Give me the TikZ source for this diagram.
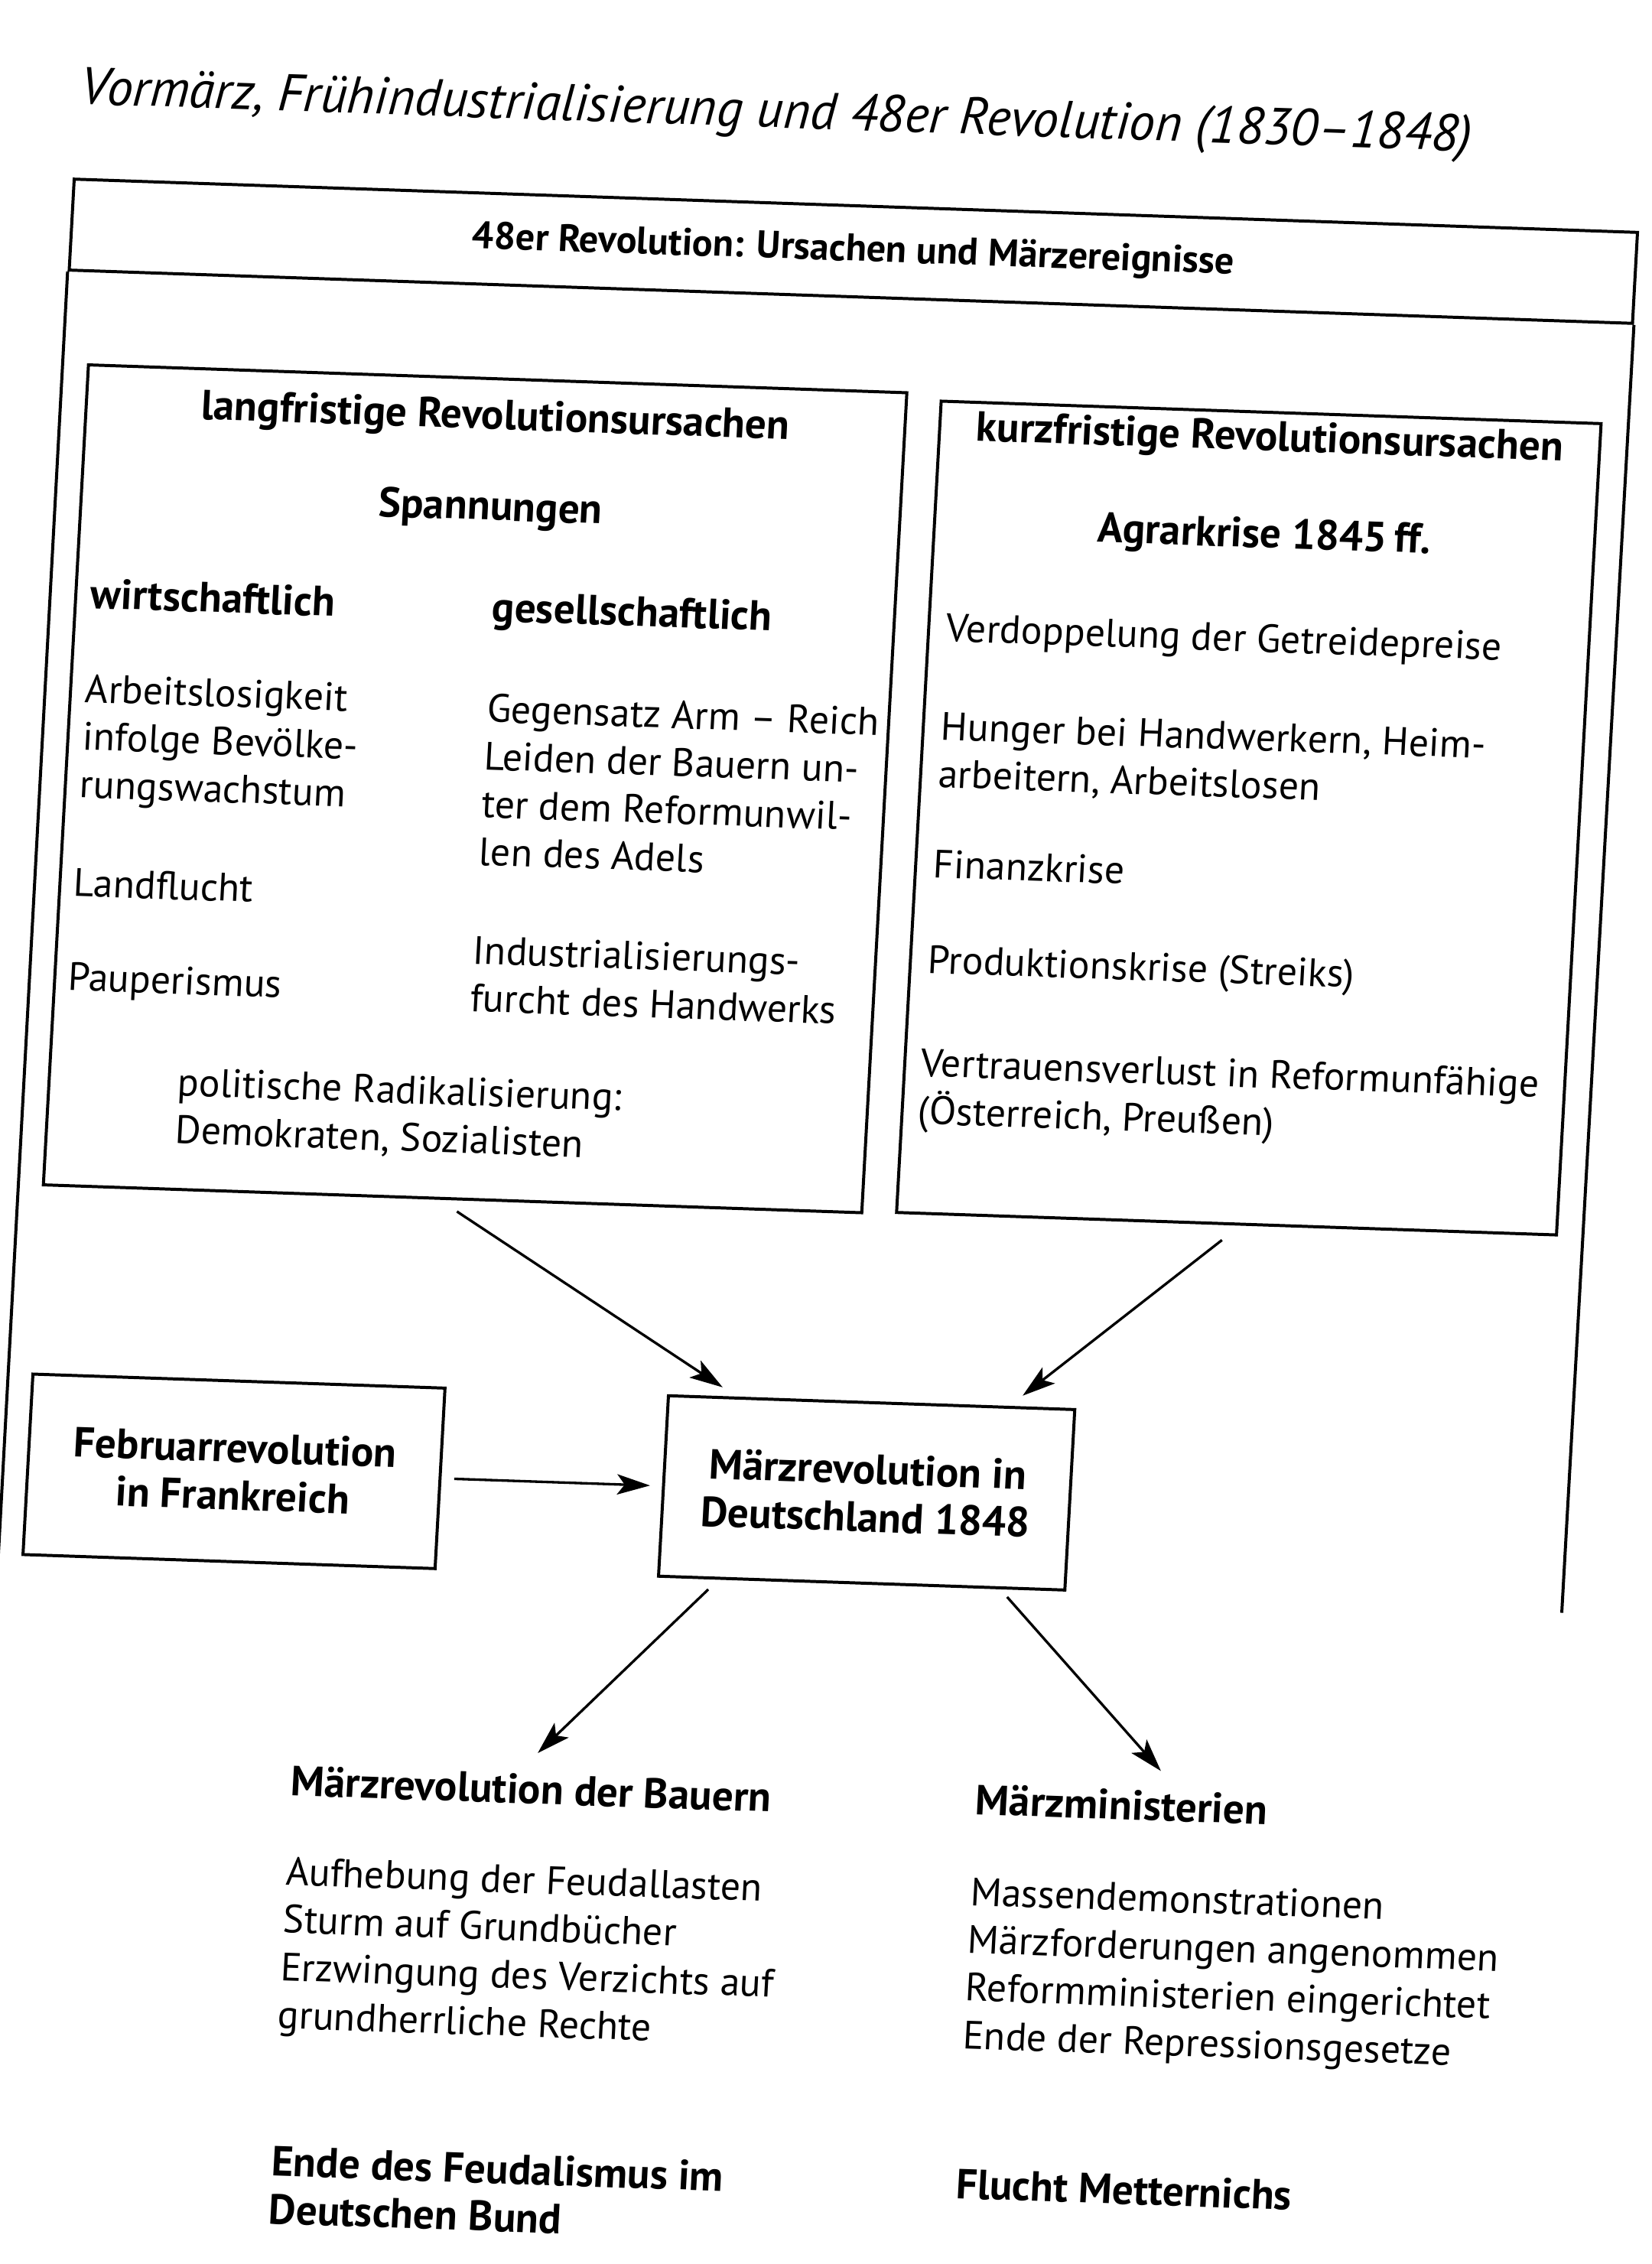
\documentclass[tikz,border=0pt]{standalone}
\usepackage{fontspec}
\setmainfont{PT Sans}
\usetikzlibrary{arrows.meta,calc}
\begin{document}
\begin{tikzpicture}[x=0.02cm,y=-0.02cm,
  box/.style={draw,line width=1.2pt,inner sep=0pt},
  arr/.style={-{Stealth[length=13pt,width=8pt,inset=3pt]},line width=1pt},
  txt/.style={inner sep=0pt,anchor=west,align=left,font=\fontsize{15.6}{18.8}\selectfont},
  hdl/.style={inner sep=0pt,align=left,font=\fontsize{16.6}{18.8}\selectfont\bfseries},
]
\useasboundingbox[fill=white] (0,0) rectangle (1144,1568);
\begin{scope}[shift={(572,784)},xslant=0.055,yslant=-0.034,shift={(-572,-784)},transform shape]
  % title
  \node[anchor=west,inner sep=0pt,font=\fontsize{20.5}{24}\selectfont\itshape] (title) at (16,82)
    {Vormärz, Frühindustrialisierung und 48er Revolution (1830–1848)};
  % header band and outer frame
  \node[box,minimum width=21.7cm,minimum height=1.26cm,font=\fontsize{15.1}{18}\selectfont\bfseries] (hdr) at (557.5,174.5)
    {48er Revolution: Ursachen und Märzereignisse};
  \coordinate (fbl) at (15,1099);
  \coordinate (fbr) at (1100,1099);
  \draw[line width=1.2pt] (fbl) -- (hdr.south west);
  \draw[line width=1.2pt] (fbr) -- (hdr.south east);
  % main boxes
  \node[box,minimum width=11.36cm,minimum height=11.36cm] (lbox) at (316,555) {};
  \node[box,minimum width=9.16cm,minimum height=11.24cm] (rbox) at (853,557) {};
  \node[box,minimum width=5.72cm,minimum height=2.5cm,align=center,font=\fontsize{16.6}{18.8}\selectfont\bfseries] (feb) at (175,1032.5)
    {Februarrevolution\\in Frankreich};
  \node[box,minimum width=5.64cm,minimum height=2.5cm,align=center,font=\fontsize{16.6}{18.8}\selectfont\bfseries] (mz) at (614,1032.5)
    {Märzrevolution in\\Deutschland 1848};
  % left box content
  \node[hdl] (lt1) at (316,298.7) {langfristige Revolutionsursachen};
  \node[hdl] (lt2) at (316,361.6) {Spannungen};
  \node[hdl,anchor=west] (lw) at (42,429) {wirtschaftlich};
  \node[hdl,anchor=west] (lg) at (320.6,431.5) {gesellschaftlich};
  \node[txt] (la) at (42,530.5) {Arbeitslosigkeit\\infolge Bevölke-\\rungswachstum};
  \node[txt] (lgg) at (321,548.5) {Gegensatz Arm – Reich\\Leiden der Bauern un-\\ter dem Reformunwil-\\len des Adels};
  \node[txt] (ll) at (41.5,629) {Landflucht};
  \node[txt] (lp) at (41,697) {Pauperismus};
  \node[txt] (li) at (320.5,683) {Industrialisierungs-\\furcht des Handwerks};
  \node[txt] (lpol) at (121,783) {politische Radikalisierung:\\Demokraten, Sozialisten};
  % right box content
  \node[hdl] (rt1) at (853,295.4) {kurzfristige Revolutionsursachen};
  \node[hdl] (rt2) at (853,362.5) {Agrarkrise 1845\,ff.};
  \node[txt] (rv) at (636,435) {Verdoppelung der Getreidepreise};
  \node[txt] (rh) at (636,519) {Hunger bei Handwerkern, Heim-\\arbeitern, Arbeitslosen};
  \node[txt] (rf) at (636,596) {Finanzkrise};
  \node[txt] (rp) at (636,665) {Produktionskrise (Streiks)};
  \node[txt] (rvv) at (635,753) {Vertrauensverlust in Reformunfähige\\(Österreich, Preußen)};
  % bottom
  \node[hdl,anchor=west] (bauern) at (226,1245) {Märzrevolution der Bauern};
  \node[hdl,anchor=west] (mini) at (701,1242) {Märzministerien};
  \node[txt] (blist) at (226,1360) {Aufhebung der Feudallasten\\Sturm auf Grundbücher\\Erzwingung des Verzichts auf\\grundherrliche Rechte};
  \node[txt] (rlist) at (701,1358) {Massendemonstrationen\\Märzforderungen angenommen\\Reformministerien eingerichtet\\Ende der Repressionsgesetze};
  \node[hdl,anchor=west] (bend) at (227,1525) {Ende des Feudalismus im\\Deutschen Bund};
  \node[hdl,anchor=west] (flucht) at (702,1508) {Flucht Metternichs};
  % arrows
  \draw[arr,shorten <=8.3pt,shorten >=6.6pt] ($(lbox.south west)!0.484!(lbox.south east)$) -- ($(mz.north west)!0.17!(mz.north east)$);
  \draw[arr,shorten <=9.2pt,shorten >=6.5pt] ($(rbox.south west)!0.521!(rbox.south east)$) -- ($(mz.north west)!0.837!(mz.north east)$);
  \draw[arr,shorten <=5pt,shorten >=4.7pt] (feb.east) -- (mz.west);
  \draw[arr,shorten <=5.5pt,shorten >=11pt] ($(mz.south west)!0.15!(mz.south east)$) -- ($(bauern.north west)!0.47!(bauern.north east)$);
  \draw[arr,shorten <=4pt,shorten >=10.3pt] ($(mz.south west)!0.839!(mz.south east)$) -- ($(mini.north west)!0.69!(mini.north east)$);
\end{scope}
\end{tikzpicture}
\end{document}
